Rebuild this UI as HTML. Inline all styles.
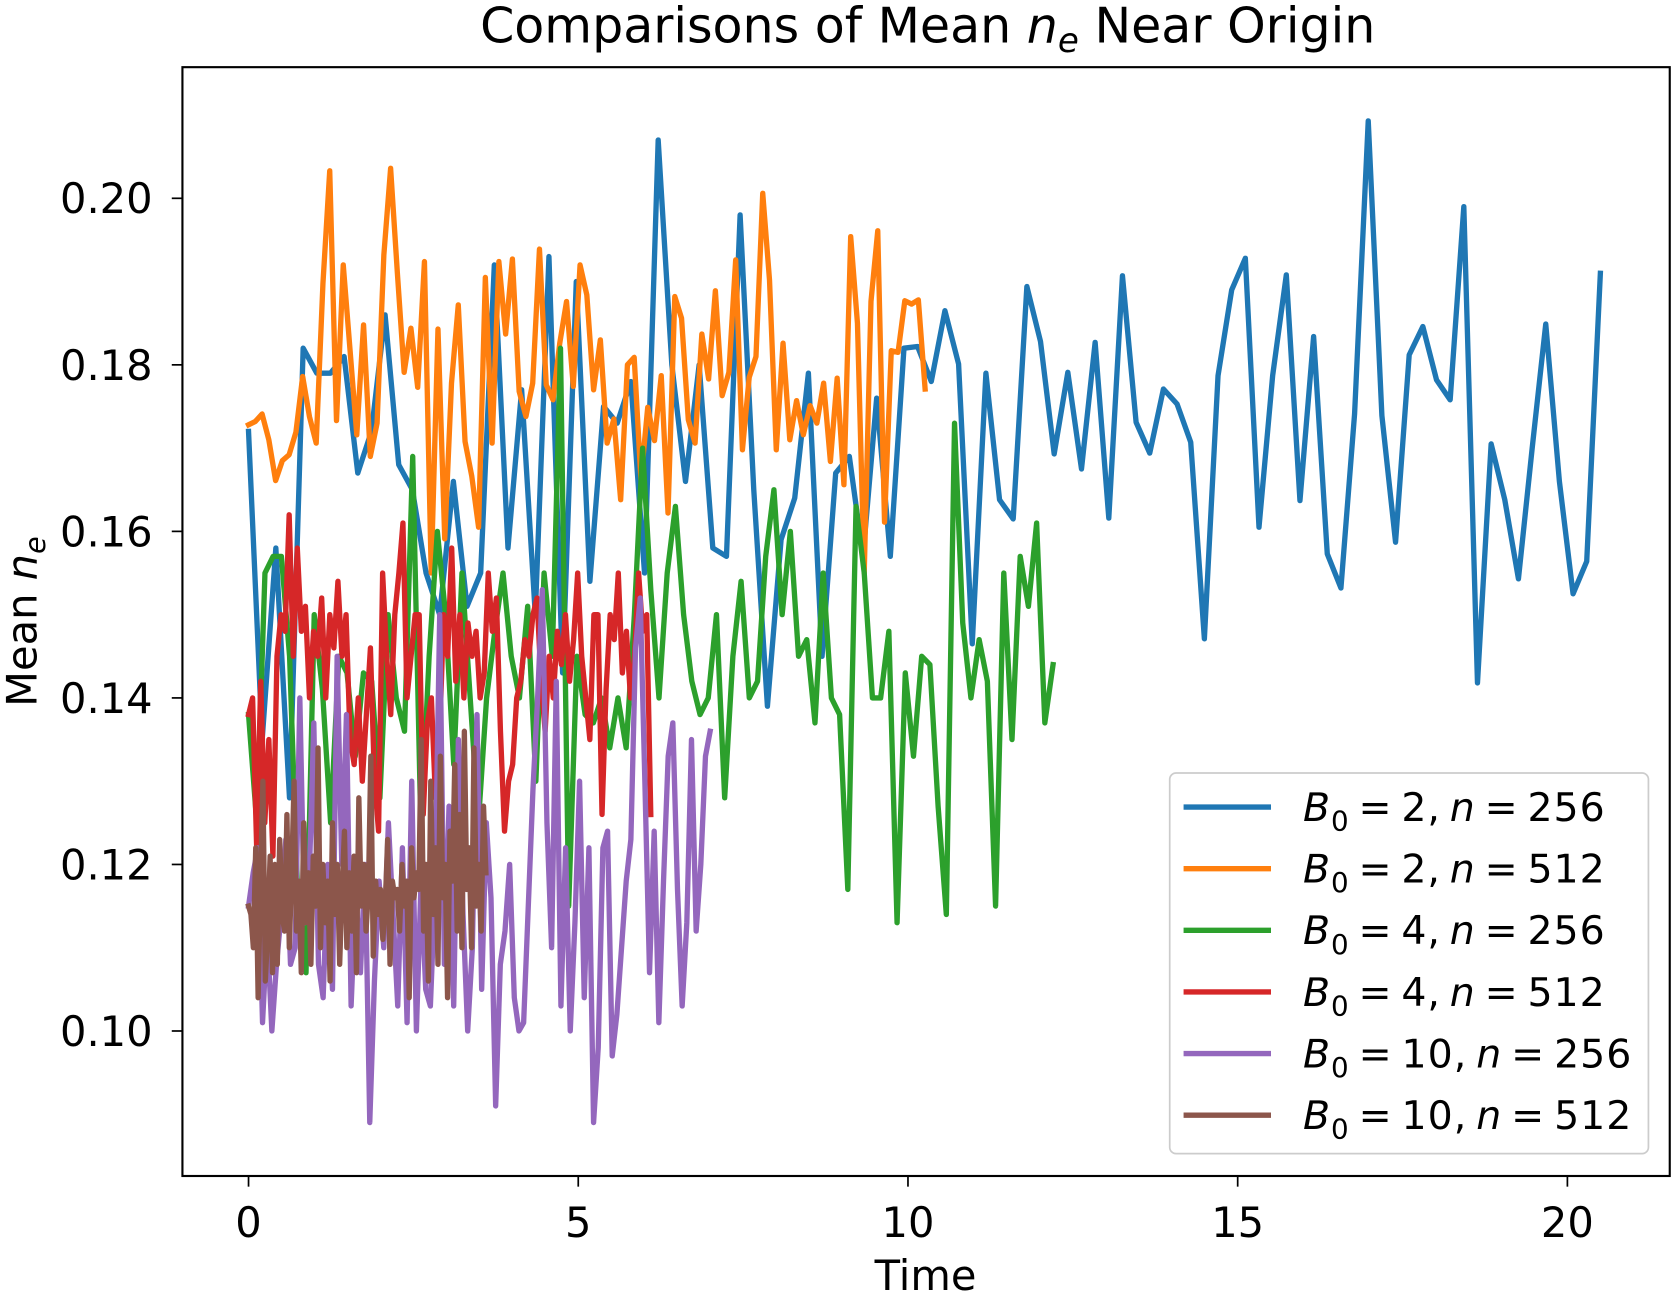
<!DOCTYPE html>
<html><head><meta charset="utf-8"><style>
html,body{margin:0;padding:0;background:#fff;}
svg{display:block;font-family:"DejaVu Sans","Liberation Sans",sans-serif;}
</style></head><body>
<svg id="chart" width="1672" height="1305" viewBox="0 0 1568 1224" xmlns="http://www.w3.org/2000/svg">
<rect x="0" y="0" width="1568" height="1224" fill="#fff"/>
<text x="870" y="40" font-size="46" text-anchor="middle">Comparisons of Mean <tspan font-style="italic">n</tspan><tspan font-style="italic" font-size="32" dy="9">e</tspan><tspan dy="-9"> Near Origin</tspan></text>
<g id="plot"></g>
<g id="axes"></g>
<rect x="171" y="63" width="1395" height="1040" fill="none" stroke="#000" stroke-width="2"/>
<text x="868" y="1210" font-size="39" text-anchor="middle">Time</text>
<text transform="translate(34,583) rotate(-90)" font-size="39" text-anchor="middle">Mean <tspan font-style="italic">n</tspan><tspan font-style="italic" font-size="27" dy="8">e</tspan></text>
<g id="legend"></g>
</svg>
<script>
const seriesLabels = [["2","256"],["2","512"],["4","256"],["4","512"],["10","256"],["10","512"]];
const seriesColors = ["#1f77b4","#ff7f0e","#2ca02c","#d62728","#9467bd","#8c564b"];
const seriesEnd = [20.5, 10.26, 12.2, 6.1, 7.0, 3.6];
const xTicks = [0,5,10,15,20];
const yTicks = [0.10,0.12,0.14,0.16,0.18,0.20];
const yTickLabels = ["0.10","0.12","0.14","0.16","0.18","0.20"];

const blueValues = [0.172,0.135,0.158,0.128,0.182,0.179,0.179,0.181,0.167,0.172,0.186,0.168,0.165,0.155,0.150,0.166,0.151,0.155,0.192,0.158,0.177,0.150,0.193,0.143,0.190,0.154,0.175,0.173,0.178,0.155,0.207,0.180,0.166,0.180,0.158,0.157,0.198,0.165,0.139,0.159,0.164,0.179,0.145,0.167,0.169,0.157,0.176,0.157,0.182,
0.1822,0.1780,0.1865,0.1801,0.1465,0.1790,0.1638,0.1615,0.1894,0.1828,0.1693,0.1791,0.1675,0.1827,0.1616,0.1907,0.1731,0.1694,0.1771,0.1753,0.1707,0.1471,0.1787,0.1890,0.1928,0.1605,0.1787,0.1908,0.1637,0.1834,0.1573,0.1532,0.1741,0.2093,0.1739,0.1587,0.1812,0.1846,0.1782,0.1758,0.1990,0.1418,0.1705,0.1638,0.1543,0.1699,0.1849,0.1660,0.1525,0.1564,0.1910];
const orangeValues = [0.1728,0.1732,0.1741,0.1710,0.1661,0.1685,0.1692,0.1719,0.1786,0.1738,0.1706,0.1898,0.2033,0.1733,0.1920,0.1818,0.1716,0.1848,0.1690,0.1730,0.1932,0.2036,0.1910,0.1791,0.1844,0.1773,0.1924,0.1550,0.1843,0.1591,0.1778,0.1872,0.1708,0.1666,0.1605,0.1905,0.1706,0.1924,0.1837,0.1927,0.1768,0.1738,0.1778,0.1939,0.1776,0.1758,0.1826,0.1876,0.1774,0.1920,0.1884,0.1770,0.1830,0.1706,0.1735,0.1638,0.1800,0.1809,0.1662,0.1749,0.1709,0.1787,0.1622,0.1882,0.1856,0.1734,0.1706,0.1837,0.1783,0.1889,0.1763,0.1791,0.1926,0.1698,0.1785,0.1810,0.2006,0.1902,0.1698,0.1826,0.1710,0.1757,0.1716,0.1751,0.1730,0.1778,0.1684,0.1784,0.1656,0.1954,0.1850,0.1550,0.1876,0.1961,0.1611,0.1817,0.1815,0.1877,0.1873,0.1878,0.1771];
const greenValues = [0.138,0.125,0.155,0.157,0.157,0.145,0.116,0.107,0.150,0.141,0.125,0.145,0.143,0.133,0.143,0.142,0.128,0.150,0.140,0.136,0.169,0.124,0.145,0.160,0.150,0.132,0.155,0.140,0.125,0.140,0.148,0.155,0.145,0.140,0.151,0.130,0.155,0.145,0.182,0.115,0.145,0.138,0.137,0.140,0.134,0.140,0.134,0.150,0.170,0.153,0.140,0.155,0.163,0.150,0.142,0.138,0.140,0.150,0.128,0.145,0.154,0.140,0.142,0.157,0.165,0.150,0.160,0.145,0.147,0.137,0.155,0.140,0.138,0.117,0.163,0.155,0.140,0.140,0.148,0.113,0.143,0.133,0.145,0.144,0.127,0.114,0.173,0.149,0.140,0.147,0.142,0.115,0.155,0.135,0.157,0.151,0.161,0.137,0.144];
const redValues = [0.138,0.140,0.122,0.142,0.125,0.135,0.121,0.145,0.150,0.148,0.162,0.145,0.158,0.148,0.151,0.140,0.148,0.145,0.152,0.140,0.150,0.146,0.154,0.145,0.150,0.135,0.132,0.140,0.130,0.138,0.146,0.130,0.124,0.155,0.145,0.138,0.150,0.155,0.161,0.140,0.145,0.150,0.150,0.126,0.137,0.140,0.128,0.135,0.150,0.145,0.158,0.142,0.150,0.140,0.149,0.145,0.148,0.140,0.143,0.155,0.148,0.152,0.136,0.124,0.130,0.132,0.140,0.142,0.147,0.145,0.150,0.152,0.142,0.136,0.145,0.140,0.148,0.144,0.150,0.142,0.147,0.155,0.145,0.140,0.135,0.150,0.150,0.126,0.141,0.150,0.147,0.155,0.143,0.148,0.140,0.145,0.155,0.148,0.150,0.126];
const purpleValues = [0.115,0.119,0.122,0.101,0.112,0.100,0.108,0.114,0.123,0.108,0.110,0.140,0.113,0.118,0.137,0.108,0.104,0.120,0.105,0.145,0.120,0.138,0.103,0.117,0.107,0.120,0.089,0.106,0.118,0.110,0.125,0.114,0.103,0.122,0.101,0.130,0.100,0.118,0.105,0.103,0.117,0.150,0.108,0.127,0.103,0.135,0.114,0.100,0.110,0.138,0.105,0.125,0.116,0.091,0.108,0.112,0.120,0.104,0.100,0.101,0.115,0.129,0.140,0.153,0.125,0.110,0.142,0.103,0.122,0.100,0.113,0.130,0.104,0.122,0.089,0.098,0.122,0.124,0.097,0.102,0.110,0.118,0.123,0.146,0.152,0.130,0.107,0.124,0.101,0.118,0.133,0.137,0.117,0.103,0.113,0.135,0.112,0.120,0.133,0.136];
const brownValues = [0.115,0.114,0.110,0.122,0.104,0.118,0.130,0.106,0.112,0.121,0.107,0.120,0.108,0.123,0.114,0.112,0.126,0.110,0.119,0.130,0.112,0.118,0.107,0.125,0.113,0.119,0.108,0.121,0.115,0.134,0.110,0.120,0.113,0.118,0.106,0.125,0.114,0.120,0.108,0.117,0.124,0.110,0.119,0.112,0.121,0.107,0.128,0.115,0.120,0.112,0.117,0.133,0.109,0.118,0.114,0.117,0.111,0.115,0.123,0.108,0.118,0.116,0.117,0.112,0.120,0.115,0.118,0.104,0.122,0.116,0.119,0.117,0.135,0.112,0.120,0.106,0.130,0.114,0.122,0.108,0.133,0.116,0.120,0.104,0.124,0.118,0.132,0.112,0.126,0.110,0.136,0.117,0.122,0.110,0.134,0.115,0.120,0.112,0.127,0.119];

const allSeries = [blueValues, orangeValues, greenValues, redValues, purpleValues, brownValues];

const X0 = 233, XS = (1470-233)/20;
const Y20 = 186, YS = (967-186)/0.10;
function xScale(t){ return X0 + t*XS; }
function yScale(v){ return Y20 + (0.20 - v)*YS; }

const NS = "http://www.w3.org/2000/svg";
function mk(tag, attrs){ const e=document.createElementNS(NS,tag); for(const k in attrs) e.setAttribute(k, attrs[k]); return e; }

const axes = document.getElementById('axes');
xTicks.forEach(t=>{
  const x = xScale(t);
  const l = mk('line',{x1:x,y1:1103,x2:x,y2:1113,stroke:'#000','stroke-width':1.6});
  
  
  axes.appendChild(l);
  const tx = mk('text',{x:x,y:1160,'font-size':39,'text-anchor':'middle'});
  
  
  tx.textContent = String(t);
  axes.appendChild(tx);
});
yTicks.forEach((v,i)=>{
  const y = yScale(v);
  const l = mk('line',{x1:161,y1:y,x2:171,y2:y,stroke:'#000','stroke-width':1.6});
  
  
  axes.appendChild(l);
  const tx = mk('text',{x:143,y:y+14,'font-size':39,'text-anchor':'end'});
  
  
  tx.textContent = yTickLabels[i];
  axes.appendChild(tx);
});

const plot = document.getElementById('plot');
allSeries.forEach((vals, si)=>{
  const n = vals.length, dt = seriesEnd[si]/(n-1);
  const pts = vals.map((v,i)=> xScale(i*dt).toFixed(2)+','+yScale(v).toFixed(2)).join(' ');
  const pl = mk('polyline',{points:pts,fill:'none',stroke:seriesColors[si],'stroke-width':5,'stroke-linejoin':'round','stroke-linecap':'square'});
  
  
  plot.appendChild(pl);
});

const legend = document.getElementById('legend');
const box = mk('rect',{x:1097,y:725,width:449,height:357,rx:6,fill:'#fff','fill-opacity':0.8,stroke:'#ccc','stroke-width':1.6});


legend.appendChild(box);
seriesLabels.forEach((lab,i)=>{
  const y = 757 + i*57.8;
  const l = mk('line',{x1:1110,y1:y,x2:1192,y2:y,stroke:seriesColors[i],'stroke-width':5});
  
  
  legend.appendChild(l);
  const w = lab[0].length > 1 ? 308 : 283;
  const t = mk('text',{x:1222,y:y+13,'font-size':37,textLength:w,lengthAdjust:'spacing'});
  
  
  t.innerHTML = '<tspan font-style="italic">B</tspan><tspan font-size="26" dy="9">0</tspan><tspan dy="-9">\u2009=\u2009'+lab[0]+',\u2009</tspan><tspan font-style="italic">n</tspan><tspan>\u2009=\u2009'+lab[1]+'</tspan>';
  legend.appendChild(t);
});
</script>
</body></html>
